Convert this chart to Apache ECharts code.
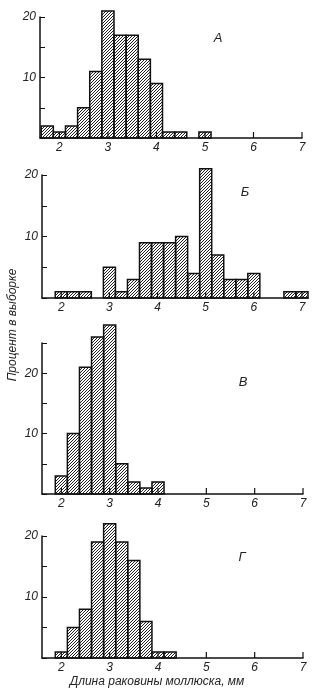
<!DOCTYPE html>
<html>
<head>
<meta charset="utf-8">
<script src="https://cdn.jsdelivr.net/npm/echarts@6/dist/echarts.min.js"></script>
<style>
html, body { margin: 0; padding: 0; background: #fff; }
#chart { width: 314px; height: 694px; }
</style>
</head>
<body>
<div id="chart"></div>
<script>
// длина раковины, центры классов (мм), шаг 0.25
var binsA = [1.75, 2, 2.25, 2.5, 2.75, 3, 3.25, 3.5, 3.75, 4, 4.25, 4.5, 4.75, 5];
var valsA = [2, 1, 2, 5, 11, 21, 17, 17, 13, 9, 1, 1, 0, 1];

var binsB = [2, 2.25, 2.5, 2.75, 3, 3.25, 3.5, 3.75, 4, 4.25, 4.5, 4.75, 5, 5.25, 5.5, 5.75, 6, 6.25, 6.5, 6.75, 7];
var valsB = [1, 1, 1, 0, 5, 1, 3, 9, 9, 9, 10, 4, 21, 7, 3, 3, 4, 0, 0, 1, 1];

var binsV = [2, 2.25, 2.5, 2.75, 3, 3.25, 3.5, 3.75, 4];
var valsV = [3, 10, 21, 26, 28, 5, 2, 1, 2];

var binsG = [2, 2.25, 2.5, 2.75, 3, 3.25, 3.5, 3.75, 4, 4.25];
var valsG = [1, 5, 8, 19, 22, 19, 16, 6, 1, 1];

var xTicks = [2, 3, 4, 5, 6, 7];
var yLabels = [10, 20];
var panelNames = ['А', 'Б', 'В', 'Г'];
var binWidth = 0.25;

var chart = echarts.init(document.getElementById('chart'));

// штриховка ////
var hatch = document.createElement('canvas');
hatch.width = 3;
hatch.height = 3;
var hctx = hatch.getContext('2d');
hctx.strokeStyle = '#222';
hctx.lineWidth = 1;
hctx.beginPath();
hctx.moveTo(-1, 4); hctx.lineTo(4, -1);
hctx.moveTo(-1, 1); hctx.lineTo(1, -1);
hctx.moveTo(2, 4); hctx.lineTo(4, 2);
hctx.stroke();

var font = 'Liberation Sans';
var grids = [
	{ left: 40, right: 12, top: 17, bottom: 556, max: 20, xmax: 7 },
	{ left: 42, right: 6, top: 175, bottom: 396, max: 20, xmax: 7.125 },
	{ left: 42, right: 11, top: 343, bottom: 200, max: 25, xmax: 7 },
	{ left: 42, right: 11, top: 536, bottom: 36, max: 20, xmax: 7 }
];
var panels = [
	[binsA, valsA], [binsB, valsB], [binsV, valsV], [binsG, valsG]
];

var xAxes = [], yAxes = [], series = [];
grids.forEach(function(g, i) {
	xAxes.push({
		type: 'value',
		gridIndex: i,
		min: 1.6,
		max: g.xmax,
		axisLine: { lineStyle: { color: '#111', width: 1.5 } },
		axisTick: { show: false },
		axisLabel: {
			customValues: xTicks,
			margin: 4,
			color: '#222',
			fontSize: 12,
			fontStyle: 'italic',
			fontFamily: font
		},
		splitLine: { show: false }
	});
	yAxes.push({
		type: 'value',
		gridIndex: i,
		min: 0,
		max: g.max,
		interval: 5,
		axisLine: { show: true, lineStyle: { color: '#111', width: 1.5 } },
		axisTick: { show: true, inside: true, length: 5, lineStyle: { color: '#111', width: 1 } },
		axisLabel: {
			margin: 4,
			color: '#222',
			fontSize: 12,
			fontStyle: 'italic',
			fontFamily: font,
			formatter: function(v) {
				return yLabels.indexOf(v) > -1 ? v : '';
			}
		},
		splitLine: { show: false }
	});
	var data = panels[i][0].map(function(b, k) { return [b, panels[i][1][k]]; });
	series.push({
		type: 'custom',
		xAxisIndex: i,
		yAxisIndex: i,
		clip: false,
		z: 1,
		data: data,
		renderItem: function(params, api) {
			var x = api.value(0), y = api.value(1);
			if (!y) return null;
			var p1 = api.coord([x - binWidth / 2, y]);
			var p2 = api.coord([x + binWidth / 2, 0]);
			return {
				type: 'rect',
				shape: { x: p1[0], y: p1[1], width: p2[0] - p1[0], height: p2[1] - p1[1] },
				style: { fill: { image: hatch, repeat: 'repeat' }, stroke: '#111', lineWidth: 1.5 }
			};
		}
	});
	// засечки по оси X (внутрь)
	series.push({
		type: 'custom',
		xAxisIndex: i,
		yAxisIndex: i,
		clip: false,
		z: 3,
		silent: true,
		data: xTicks.map(function(t) { return [t, 0]; }),
		renderItem: function(params, api) {
			var p = api.coord([api.value(0), 0]);
			return {
				type: 'line',
				shape: { x1: p[0], y1: p[1], x2: p[0], y2: p[1] - 6 },
				style: { stroke: '#111', lineWidth: 1.2 }
			};
		}
	});
});

var letterPos = [[218, 38], [245, 192], [243, 382], [242, 557]];
var graphics = panelNames.map(function(n, i) {
	return {
		type: 'text',
		x: letterPos[i][0],
		y: letterPos[i][1],
		style: {
			text: n, fill: '#222', font: 'italic 13px ' + font,
			align: 'center', verticalAlign: 'middle'
		}
	};
});
graphics.push({
	type: 'text',
	x: 13,
	y: 325,
	rotation: Math.PI / 2,
	style: {
		text: 'Процент в выборке', fill: '#222', font: 'italic 12px ' + font,
		align: 'center', verticalAlign: 'middle'
	}
}, {
	type: 'text',
	x: 157,
	y: 682,
	style: {
		text: 'Длина раковины моллюска, мм', fill: '#222', font: 'italic 12px ' + font,
		align: 'center', verticalAlign: 'middle'
	}
});

chart.setOption({
	animation: false,
	backgroundColor: '#fff',
	grid: grids.map(function(g) {
		return { left: g.left, right: g.right, top: g.top, bottom: g.bottom };
	}),
	xAxis: xAxes,
	yAxis: yAxes,
	series: series,
	graphic: graphics
});
</script>
</body>
</html>
